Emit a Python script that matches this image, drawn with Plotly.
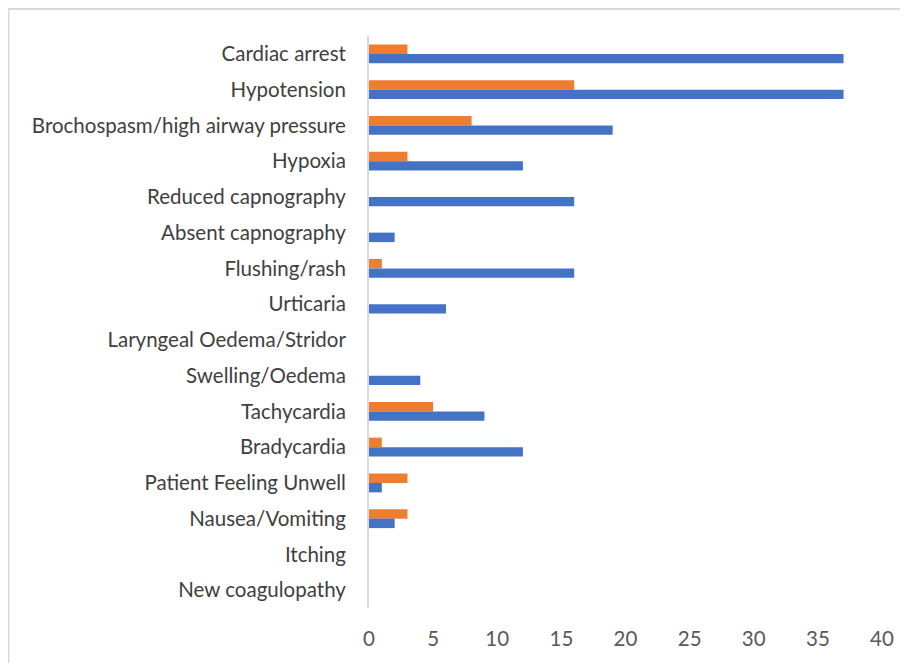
import plotly.graph_objects as go

categories = [
    "Cardiac arrest", "Hypotension", "Brochospasm/high airway pressure", "Hypoxia",
    "Reduced capnography", "Absent capnography", "Flushing/rash", "Urticaria",
    "Laryngeal Oedema/Stridor", "Swelling/Oedema", "Tachycardia", "Bradycardia",
    "Patient Feeling Unwell", "Nausea/Vomiting", "Itching", "New coagulopathy",
]
series_blue = [37, 37, 19, 12, 16, 2, 16, 6, 0, 4, 9, 12, 1, 2, 0, 0]
series_orange = [3, 16, 8, 3, 0, 0, 1, 0, 0, 0, 5, 1, 3, 3, 0, 0]
x_ticks = [0, 5, 10, 15, 20, 25, 30, 35, 40]

fig = go.Figure()
fig.add_trace(go.Bar(y=categories, x=series_orange, orientation="h", name="Series 2",
                     marker=dict(color="#ED7D31", line=dict(width=0))))
fig.add_trace(go.Bar(y=categories, x=series_blue, orientation="h", name="Series 1",
                     marker=dict(color="#4472C4", line=dict(width=0))))

# page body has an ~8px margin; figure drawn from (8, 8)
OFF = 8
W, H = 908 - OFF, 663 - OFF
L, R, T, B = 369 - OFF, 908 - 882, 36 - OFF, 663 - 608
pw, ph = W - L - R, H - T - B

def px2paper_x(px):
    return (px - OFF - L) / pw

def px2paper_y(py):
    return (H - B - (py - OFF)) / ph

fig.update_layout(
    width=W, height=H,
    margin=dict(l=L, r=R, t=T, b=B, autoexpand=False),
    paper_bgcolor="white", plot_bgcolor="white",
    barmode="group", bargap=0.47, bargroupgap=0,
    showlegend=False,
    font=dict(family="Lato, Calibri, sans-serif", size=20.5, color="#404040"),
    xaxis=dict(range=[0, 40], tickvals=x_ticks, showgrid=False, zeroline=False,
               showline=False, ticks="", tickfont=dict(color="#595959", size=20.5),
               ticklabelstandoff=16),
    yaxis=dict(categoryorder="array", categoryarray=categories, autorange="reversed",
               showgrid=False, zeroline=False, showline=True, linecolor="#D9D9D9",
               linewidth=2, ticks="", ticklabelstandoff=17,
               tickfont=dict(color="#404040", size=20.5)),
    shapes=[
        dict(type="line", xref="paper", yref="paper",
             x0=px2paper_x(8.5), x1=px2paper_x(8.5), y0=px2paper_y(8), y1=px2paper_y(680),
             line=dict(color="#D9D9D9", width=2)),
        dict(type="line", xref="paper", yref="paper",
             x0=px2paper_x(7), x1=px2paper_x(930), y0=px2paper_y(9), y1=px2paper_y(9),
             line=dict(color="#D9D9D9", width=2)),
    ],
)

fig.write_html("out.html")
